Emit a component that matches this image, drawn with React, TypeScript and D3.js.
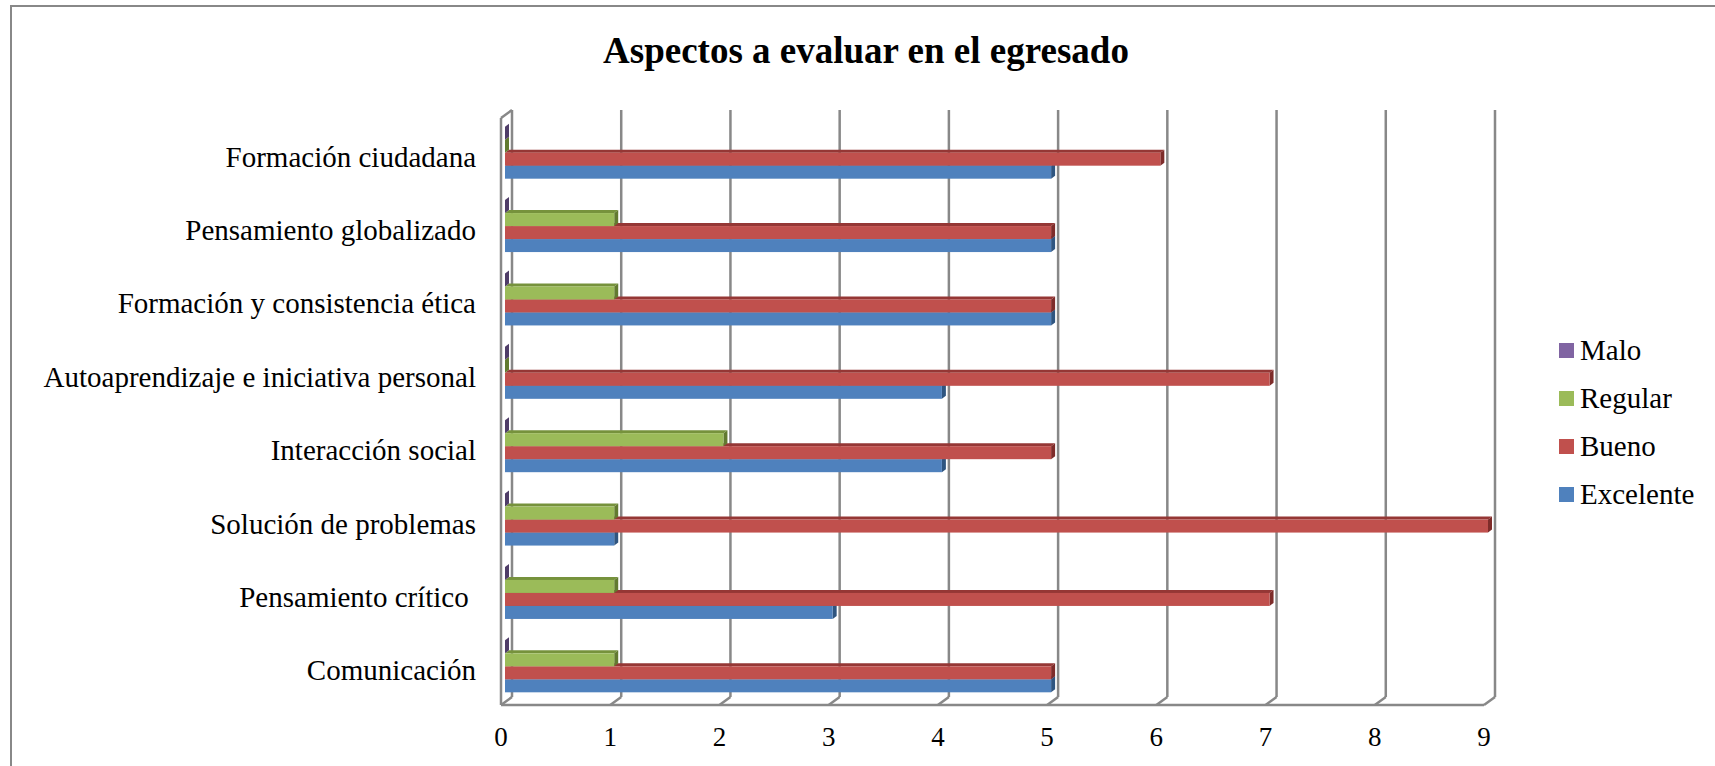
import React from 'react';
import * as d3 from 'd3';

const categories = [
  'Formación ciudadana',
  'Pensamiento globalizado',
  'Formación y consistencia ética',
  'Autoaprendizaje e iniciativa personal',
  'Interacción social',
  'Solución de problemas',
  'Pensamiento crítico ',
  'Comunicación',
];
const seriesNames = ['Malo', 'Regular', 'Bueno', 'Excelente'];
const malo = [0, 0, 0, 0, 0, 0, 0, 0];
const regular = [0, 1, 1, 0, 2, 1, 1, 1];
const bueno = [6, 5, 5, 7, 5, 9, 7, 5];
const excelente = [5, 5, 5, 4, 4, 1, 3, 5];
const xTicks = [0, 1, 2, 3, 4, 5, 6, 7, 8, 9];
const title = 'Aspectos a evaluar en el egresado';

const frontColors = ['#8064A2', '#9BBB59', '#C0504D', '#4F81BD'];
const topColors = ['#5E4A7A', '#76923C', '#953735', '#3A6496'];
const sideColors = ['#4F3D68', '#627A30', '#7E2C2A', '#2F5580'];

const W = 1715;
const H = 766;
const FONT = '"Liberation Serif", "Times New Roman", serif';

export default function App() {
  const values = [malo, regular, bueno, excelente];
  const x = d3.scaleLinear().domain([0, 9]).range([512, 1495]);
  const y = d3.scaleBand<string>().domain(categories).range([110, 697]).paddingInner(0);
  const DX = -11;
  const DY = 8;
  const yTop = 110;
  const yBot = 697;
  const barH = 13;
  const bdx = 4;
  const bdy = -3;
  const barShift = -7;

  const bars: React.ReactNode[] = [];
  categories.forEach((c, ci) => {
    const center = (y(c) as number) + y.bandwidth() / 2 + 6;
    const sy = d3.scaleBand<string>().domain(seriesNames).range([center - 26, center + 26]);
    for (let si = seriesNames.length - 1; si >= 0; si--) {
      const v = values[si][ci];
      const ys = sy(seriesNames[si]) as number;
      const x0 = x(0) + barShift;
      const x1 = x(v) + barShift;
      const topPts = [
        [x0, ys], [x1, ys], [x1 + bdx, ys + bdy], [x0 + bdx, ys + bdy],
      ].map((p) => p.join(',')).join(' ');
      const sidePts = [
        [x1, ys], [x1 + bdx, ys + bdy], [x1 + bdx, ys + bdy + barH], [x1, ys + barH],
      ].map((p) => p.join(',')).join(' ');
      bars.push(
        <g key={`${ci}-${si}`}>
          <polygon points={topPts} fill={topColors[si]} />
          <polygon points={sidePts} fill={sideColors[si]} />
          <rect x={x0} y={ys} width={Math.max(0, x1 - x0)} height={barH} fill={frontColors[si]} />
        </g>
      );
    }
  });

  const gridColor = '#888888';
  const gw = 2.5;

  return (
    <svg
      width={W}
      height={H}
      style={{ position: 'absolute', left: 0, top: 0, background: '#fff' }}
      fontFamily={FONT}
    >
      <rect x={0} y={0} width={W} height={H} fill="#fff" />
      <rect x={11} y={6} width={W + 20} height={H + 20} fill="none" stroke="#888" strokeWidth={2} />
      <text x={866} y={63} textAnchor="middle" fontSize={37} fontWeight="bold" fill="#000">
        {title}
      </text>

      {xTicks.map((t) => (
        <g key={`g${t}`}>
          <line x1={x(t)} y1={yTop} x2={x(t)} y2={yBot} stroke={gridColor} strokeWidth={gw} />
          <line x1={x(t)} y1={yBot} x2={x(t) + DX} y2={yBot + DY} stroke={gridColor} strokeWidth={gw} />
        </g>
      ))}
      <line x1={x(0) + DX} y1={yBot + DY} x2={x(9) + DX} y2={yBot + DY} stroke={gridColor} strokeWidth={gw} />
      <line x1={x(0) + DX} y1={yTop + DY} x2={x(0) + DX} y2={yBot + DY} stroke={gridColor} strokeWidth={gw} />
      <line x1={x(0)} y1={yTop} x2={x(0) + DX} y2={yTop + DY} stroke={gridColor} strokeWidth={gw} />

      {bars}

      {xTicks.map((t) => (
        <text key={`t${t}`} x={x(t) + DX} y={746} textAnchor="middle" fontSize={27} fill="#000">
          {t}
        </text>
      ))}

      {categories.map((c) => (
        <text
          key={c}
          x={476}
          y={(y(c) as number) + y.bandwidth() / 2 + 20}
          textAnchor="end"
          fontSize={29}
          fill="#000"
          style={{ whiteSpace: 'pre' }}
        >
          {c}
        </text>
      ))}

      {seriesNames.map((s, i) => (
        <g key={s}>
          <rect x={1559} y={343 + i * 48} width={15} height={15} fill={frontColors[i]} />
          <text x={1580} y={359.5 + i * 48} fontSize={29} fill="#000">
            {s}
          </text>
        </g>
      ))}
    </svg>
  );
}
